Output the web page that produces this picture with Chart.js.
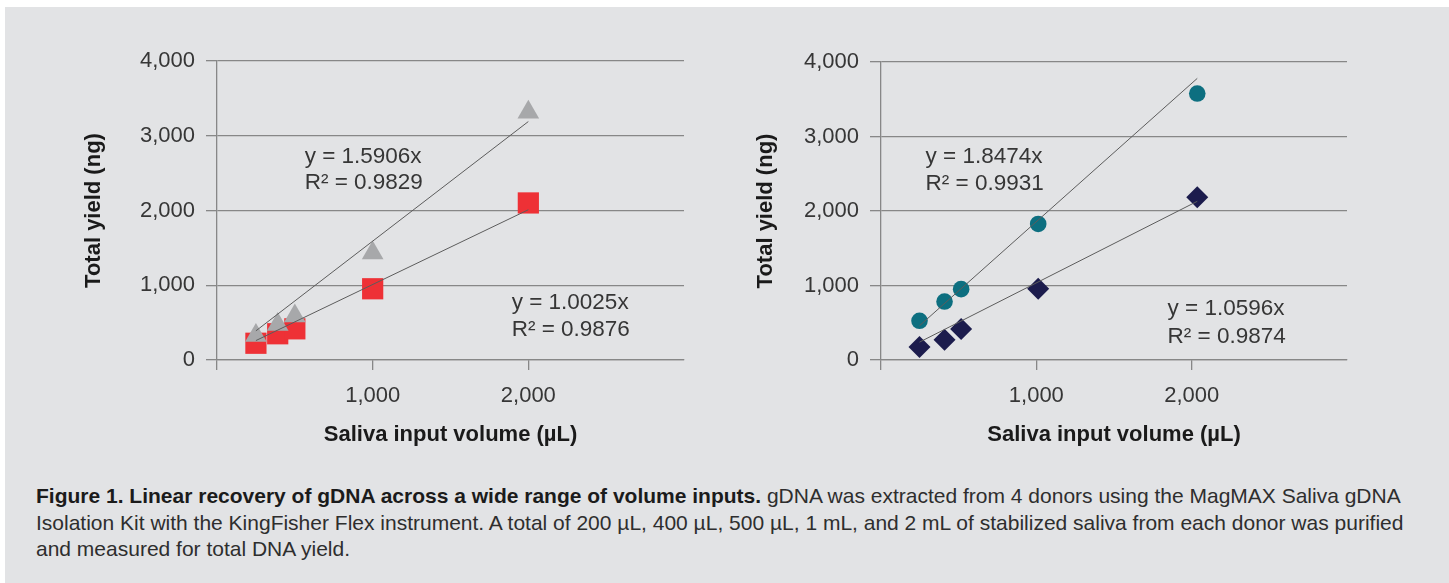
<!DOCTYPE html>
<html>
<head>
<meta charset="utf-8">
<script src="https://cdn.jsdelivr.net/npm/chart.js@4/dist/chart.umd.min.js"></script>
<style>
  body { margin: 0; background: #fff; width: 1449px; height: 583px; overflow: hidden; position: relative; }
  #panel { position: absolute; left: 5px; top: 7px; right: 0; bottom: 0; background: #e2e3e5; }
  canvas { position: absolute; top: 0; }
  #chartLeft { left: 0; }
  #chartRight { left: 720px; }
  #caption {
    position: absolute; left: 36px; top: 483px;
    font-family: "Liberation Sans", Arial, sans-serif; font-size: 21px; line-height: 26.5px;
    color: #2e2e2e; white-space: nowrap;
  }
  #caption b { color: #1b1b1b; }
</style>
</head>
<body>
<div id="panel"></div>
<canvas id="chartLeft" width="720" height="460"></canvas>
<canvas id="chartRight" width="729" height="460"></canvas>
<div id="caption"><b>Figure 1. Linear recovery of gDNA across a wide range of volume inputs.</b> gDNA was extracted from 4 donors using the MagMAX Saliva gDNA<br>Isolation Kit with the KingFisher Flex instrument. A total of 200 µL, 400 µL, 500 µL, 1 mL, and 2 mL of stabilized saliva from each donor was purified<br>and measured for total DNA yield.</div>

<script>
// values (µL in, ng out)
const volumesLeft = [250, 390, 500, 1000, 2000];
const redYield = [224, 351, 417, 953, 2101];
const grayYield = [329, 476, 587, 1430, 3316];

const volumesRight = [248, 409, 516, 1012, 2036];
const tealYield = [526, 785, 951, 1826, 3577];
const navyYield = [174, 272, 415, 955, 2184];

// trend line end points
const trendXLeft = [250, 2000];
const grayTrend = [390, 3190];
const redTrend = [260, 2010];
const trendXRight = [248, 2036];
const tealTrend = [460, 3780];
const navyTrend = [240, 2130];

const yTicks = [0, 1000, 2000, 3000, 4000];
const xTickLabels = [1000, 2000];

const eqLeft = [
    { text: 'y = 1.5906x', x: 563, y: 2720 },
    { text: 'R² = 0.9829', x: 563, y: 2372 },
    { text: 'y = 1.0025x', x: 1893, y: 767 },
    { text: 'R² = 0.9876', x: 1893, y: 405 }
];
const eqRight = [
    { text: 'y = 1.8474x', x: 287, y: 2723 },
    { text: 'R² = 0.9931', x: 287, y: 2362 },
    { text: 'y = 1.0596x', x: 1845, y: 687 },
    { text: 'R² = 0.9874', x: 1845, y: 312 }
];

const FONT = '"Liberation Sans", Arial, sans-serif';
const gridColor = '#878787';
const textColor = '#363636';

const toPoints = (xs, ys) => xs.map((x, i) => ({ x: x, y: ys[i] }));

// draws the regression equations at data coordinates
const equationPlugin = {
    id: 'equations',
    afterDatasetsDraw(chart, args, opts) {
        const ctx = chart.ctx;
        ctx.save();
        ctx.font = '22.5px ' + FONT;
        ctx.fillStyle = textColor;
        ctx.textAlign = 'left';
        ctx.textBaseline = 'middle';
        opts.items.forEach(item => {
            ctx.fillText(item.text, chart.scales.x.getPixelForValue(item.x), chart.scales.y.getPixelForValue(item.y));
        });
        ctx.restore();
    }
};

const trendSet = (xs, ys) => ({
    type: 'line',
    data: toPoints(xs, ys),
    borderColor: '#5c5c5c',
    borderWidth: 1,
    pointRadius: 0,
    fill: false,
    tension: 0
});

const markerSet = (xs, ys, style, radius, color) => ({
    data: toPoints(xs, ys),
    pointStyle: style,
    pointRadius: radius,
    pointHoverRadius: radius,
    backgroundColor: color,
    borderColor: color,
    borderWidth: 0
});

const buildOptions = (pad, yWidth, yTitlePad, equations) => ({
    responsive: false,
    animation: false,
    events: [],
    layout: { padding: pad },
    plugins: {
        legend: { display: false },
        tooltip: { enabled: false },
        equations: { items: equations }
    },
    scales: {
        x: {
            type: 'linear',
            min: 0,
            max: 3000,
            afterFit: (scale) => { scale.height = 100; },
            afterBuildTicks: (scale) => { scale.ticks = [0, 1000, 2000, 3000].map(v => ({ value: v })); },
            border: { display: true, color: gridColor, width: 1.3 },
            grid: {
                drawOnChartArea: false,
                drawTicks: true,
                tickLength: 10,
                lineWidth: 1.3,
                color: (c) => (c.tick && c.tick.value === 3000) ? 'rgba(0,0,0,0)' : gridColor
            },
            ticks: {
                padding: 13,
                color: textColor,
                font: { family: FONT, size: 22 },
                callback: (v) => xTickLabels.includes(v) ? v.toLocaleString('en-US') : ''
            },
            title: {
                display: true,
                text: 'Saliva input volume (µL)',
                color: '#1a1a1a',
                font: { family: FONT, size: 22, weight: 'bold' },
                padding: { top: 0, bottom: 12 }
            }
        },
        y: {
            type: 'linear',
            min: 0,
            max: 4000,
            afterFit: (scale) => { scale.width = yWidth; },
            afterBuildTicks: (scale) => { scale.ticks = yTicks.map(v => ({ value: v })); },
            border: { display: true, color: gridColor, width: 1.3 },
            grid: {
                color: gridColor,
                lineWidth: 1.3,
                tickLength: 11
            },
            ticks: {
                padding: 11,
                color: textColor,
                font: { family: FONT, size: 22 },
                callback: (v) => v.toLocaleString('en-US')
            },
            title: {
                display: true,
                text: 'Total yield (ng)',
                color: '#1a1a1a',
                font: { family: FONT, size: 22, weight: 'bold' },
                padding: { top: yTitlePad, bottom: 0 }
            }
        }
    }
});

new Chart(document.getElementById('chartLeft'), {
    type: 'scatter',
    data: {
        datasets: [
            trendSet(trendXLeft, grayTrend),
            trendSet(trendXLeft, redTrend),
            markerSet(volumesLeft, grayYield, 'triangle', 12.5, '#a7a8aa'),
            markerSet(volumesLeft, redYield, 'rect', 15, '#ee3136')
        ]
    },
    options: buildOptions({ top: 61, right: 36, bottom: 0, left: 0 }, 217, 81, eqLeft),
    plugins: [equationPlugin]
});

new Chart(document.getElementById('chartRight'), {
    type: 'scatter',
    data: {
        datasets: [
            trendSet(trendXRight, tealTrend),
            trendSet(trendXRight, navyTrend),
            markerSet(volumesRight, tealYield, 'circle', 8.3, '#0d6f80'),
            markerSet(volumesRight, navyYield, 'rectRot', 11, '#1c1c4d')
        ]
    },
    options: buildOptions({ top: 62, right: 102, bottom: 0, left: 0 }, 161, 33, eqRight),
    plugins: [equationPlugin]
});
</script>
</body>
</html>
